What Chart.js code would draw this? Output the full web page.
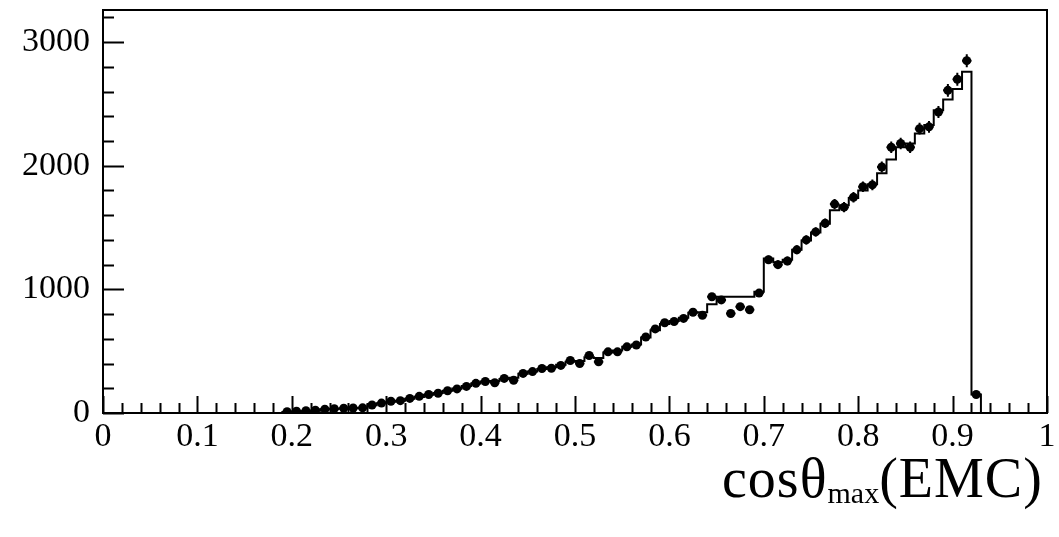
<!DOCTYPE html>
<html><head><meta charset="utf-8">
<script src="https://cdn.jsdelivr.net/npm/chart.js@4/dist/chart.umd.min.js"></script>
<style>
html,body{margin:0;padding:0;background:#fff;}
#wrap{position:relative;width:1059px;height:537px;}
#title{position:absolute;left:722px;top:450px;font-family:"Liberation Serif",serif;font-size:56px;line-height:56px;letter-spacing:1px;color:#000;white-space:nowrap;}
#title sub{font-size:30px;letter-spacing:0;vertical-align:baseline;position:relative;top:6px;}
</style></head><body>
<div id="wrap"><canvas id="c" width="1059" height="537"></canvas>
<div id="title">cosθ<sub>max</sub>(EMC)</div></div>
<script>
const binWidth = 0.01;
const binLow = [0.19,0.20,0.21,0.22,0.23,0.24,0.25,0.26,0.27,0.28,0.29,0.30,0.31,0.32,0.33,0.34,0.35,0.36,0.37,0.38,0.39,
  0.40,0.41,0.42,0.43,0.44,0.45,0.46,0.47,0.48,0.49,0.50,0.51,0.52,0.53,0.54,0.55,0.56,0.57,0.58,0.59,
  0.60,0.61,0.62,0.63,0.64,0.65,0.66,0.67,0.68,0.69,0.70,0.71,0.72,0.73,0.74,0.75,0.76,0.77,0.78,0.79,
  0.80,0.81,0.82,0.83,0.84,0.85,0.86,0.87,0.88,0.89,0.90,0.91,0.92];
const dataCounts = [10,15,18,22,30,35,38,40,42,65,80,95,100,118,135,150,160,180,195,215,240,
  255,245,280,265,320,335,360,362,385,425,400,465,415,495,495,535,550,615,680,730,
  740,765,815,790,940,915,805,860,835,970,1240,1200,1230,1320,1400,1465,1535,1690,1665,1745,
  1830,1845,1990,2150,2180,2150,2300,2315,2435,2610,2700,2850,150];
const dataErrors = [3,4,4,5,5,6,6,6,6,8,9,10,10,11,12,12,13,13,14,15,15,
  16,16,17,16,18,18,19,19,20,21,20,22,20,22,22,23,23,25,26,27,
  27,28,29,28,31,30,28,29,29,31,35,35,35,36,37,38,39,41,41,42,
  43,43,45,46,47,46,48,48,49,51,52,53,12];
const mcCounts = [8,12,15,18,30,35,35,38,40,62,78,92,100,115,130,148,162,180,198,218,238,
  255,258,275,285,318,335,355,370,390,415,420,450,445,490,505,535,555,610,670,720,
  745,770,810,815,880,940,940,940,940,980,1250,1220,1240,1320,1395,1460,1530,1640,1680,1740,
  1800,1850,1940,2050,2150,2180,2260,2330,2450,2535,2620,2760,150];
const xTickValues = [0,0.1,0.2,0.3,0.4,0.5,0.6,0.7,0.8,0.9,1];
const xTickLabels = ['0','0.1','0.2','0.3','0.4','0.5','0.6','0.7','0.8','0.9','1'];
const yTickValues = [0,1000,2000,3000];
const yTickLabels = ['0','1000','2000','3000'];

const mcPoints = [{x: binLow[0], y: 0}];
binLow.forEach((b, i) => mcPoints.push({x: b, y: mcCounts[i]}));
mcPoints.push({x: binLow[binLow.length - 1] + binWidth, y: 0});
const dataPoints = binLow.map((b, i) => ({x: b + binWidth / 2, y: dataCounts[i]}));

const framePlugin = {
  id: 'frame',
  afterDatasetsDraw(chart) {
    const {ctx, chartArea: a, scales: {x, y}} = chart;
    ctx.save();
    ctx.strokeStyle = '#000';
    ctx.lineWidth = 2;
    binLow.forEach((b, i) => {
      const yc = y.getPixelForValue(dataCounts[i]);
      ctx.beginPath();
      ctx.moveTo(x.getPixelForValue(b), yc);
      ctx.lineTo(x.getPixelForValue(b + binWidth), yc);
      ctx.moveTo(x.getPixelForValue(b + binWidth / 2), y.getPixelForValue(dataCounts[i] - dataErrors[i]));
      ctx.lineTo(x.getPixelForValue(b + binWidth / 2), y.getPixelForValue(dataCounts[i] + dataErrors[i]));
      ctx.stroke();
    });
    ctx.lineWidth = 2;
    ctx.strokeRect(a.left, a.top, a.right - a.left, a.bottom - a.top);
    ctx.beginPath();
    for (let k = 0; k <= 50; k++) {
      const v = k * 0.02;
      const px = Math.round(x.getPixelForValue(v)) + 0.5;
      const len = (k % 5 === 0) ? 17 : 10;
      ctx.moveTo(px, a.bottom);
      ctx.lineTo(px, a.bottom - len);
    }
    for (let k = 0; k <= 16; k++) {
      const v = k * 200;
      const py = Math.round(y.getPixelForValue(v)) + 0.5;
      const len = (k % 5 === 0) ? 21 : 11;
      ctx.moveTo(a.left, py);
      ctx.lineTo(a.left + len, py);
    }
    ctx.stroke();
    ctx.restore();
  }
};

new Chart(document.getElementById('c'), {
  type: 'scatter',
  data: {
    datasets: [
      {
        type: 'line',
        data: mcPoints,
        stepped: 'before',
        borderColor: '#000',
        borderWidth: 2,
        pointRadius: 0,
        fill: false,
        tension: 0
      },
      {
        data: dataPoints,
        pointStyle: 'circle',
        pointRadius: 4.5,
        pointBackgroundColor: '#000',
        pointBorderColor: '#000',
        pointBorderWidth: 0
      }
    ]
  },
  options: {
    responsive: false,
    animation: false,
    devicePixelRatio: 1,
    layout: {padding: {top: 10, right: 12, left: 0, bottom: 0}},
    plugins: {legend: {display: false}, tooltip: {enabled: false}},
    scales: {
      x: {
        type: 'linear', min: 0, max: 1,
        afterBuildTicks: s => { s.ticks = xTickValues.map(v => ({value: v})); },
        afterFit: s => { s.height = 124; s.paddingLeft = 0; s.paddingRight = 0; },
        grid: {display: false, drawTicks: false},
        border: {display: false},
        ticks: {
          padding: 4,
          color: '#000',
          font: {family: 'Liberation Serif', size: 34},
          maxRotation: 0, autoSkip: false,
          callback: (v) => xTickLabels[xTickValues.findIndex(t => Math.abs(t - v) < 1e-9)]
        }
      },
      y: {
        type: 'linear', min: 0, max: 3260,
        afterBuildTicks: s => { s.ticks = yTickValues.map(v => ({value: v})); },
        afterFit: s => { s.width = 103; s.paddingTop = 0; s.paddingBottom = 0; },
        grid: {display: false, drawTicks: false},
        border: {display: false},
        ticks: {
          padding: 13,
          color: '#000',
          font: {family: 'Liberation Serif', size: 34},
          autoSkip: false,
          callback: (v) => yTickLabels[yTickValues.indexOf(v)]
        }
      }
    }
  },
  plugins: [framePlugin]
});
</script>
</body></html>
